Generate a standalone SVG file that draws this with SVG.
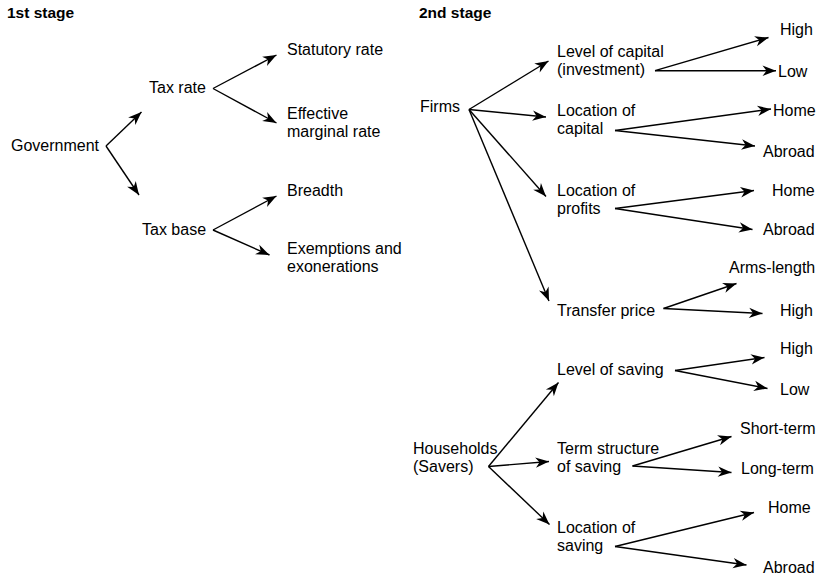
<svg xmlns="http://www.w3.org/2000/svg" width="818" height="579" viewBox="0 0 818 579">
  <defs>
    <marker id="arrow" markerUnits="userSpaceOnUse" markerWidth="16" markerHeight="12" viewBox="-14 -6 15 12" refX="0" refY="0" orient="auto">
      <path d="M0,0 L-13.5,-5.2 L-9.5,0 L-13.5,5.2 Z" fill="#000"/>
    </marker>
    <style>
      text { font-family: "Liberation Sans", Arial, Helvetica, sans-serif; font-size: 16px; fill: #000; }
      .title { font-weight: bold; font-size: 15.5px; }
      .conn line { stroke: #000; stroke-width: 1.4; fill: none; marker-end: url(#arrow); }
    </style>
  </defs>
  <rect width="818" height="579" fill="#fff"/>

  <!-- stage headings -->
  <g id="stage1"><text class="title" x="7" y="18">1st stage</text></g>
  <g id="stage2"><text class="title" x="419" y="18">2nd stage</text></g>

  <!-- 1st stage nodes -->
  <g id="government"><text x="11" y="151">Government</text></g>
  <g id="tax-rate"><text x="149" y="93">Tax rate</text></g>
  <g id="statutory-rate"><text x="287" y="55">Statutory rate</text></g>
  <g id="effective-rate"><text x="287" y="119">Effective</text><text x="287" y="137">marginal rate</text></g>
  <g id="tax-base"><text x="142" y="235">Tax base</text></g>
  <g id="breadth"><text x="287" y="196">Breadth</text></g>
  <g id="exemptions"><text x="287" y="254">Exemptions and</text><text x="287" y="272">exonerations</text></g>

  <!-- 2nd stage: firms -->
  <g id="firms"><text x="420" y="112">Firms</text></g>
  <g id="level-capital"><text x="557" y="57">Level of capital</text><text x="557" y="75">(investment)</text></g>
  <g id="capital-high"><text x="780" y="35">High</text></g>
  <g id="capital-low"><text x="778" y="77">Low</text></g>
  <g id="location-capital"><text x="557" y="116">Location of</text><text x="557" y="134">capital</text></g>
  <g id="capital-home"><text x="773" y="116">Home</text></g>
  <g id="capital-abroad"><text x="763" y="157">Abroad</text></g>
  <g id="location-profits"><text x="557" y="196">Location of</text><text x="557" y="214">profits</text></g>
  <g id="profits-home"><text x="772" y="196">Home</text></g>
  <g id="profits-abroad"><text x="763" y="235">Abroad</text></g>
  <g id="transfer-price"><text x="557" y="316">Transfer price</text></g>
  <g id="price-arms"><text x="729" y="273">Arms-length</text></g>
  <g id="price-high"><text x="780" y="316">High</text></g>

  <!-- 2nd stage: households -->
  <g id="households"><text x="413" y="454">Households</text><text x="413" y="472">(Savers)</text></g>
  <g id="level-saving"><text x="557" y="375">Level of saving</text></g>
  <g id="saving-high"><text x="780" y="354">High</text></g>
  <g id="saving-low"><text x="780" y="395">Low</text></g>
  <g id="term-structure"><text x="557" y="454">Term structure</text><text x="557" y="472">of saving</text></g>
  <g id="short-term"><text x="740" y="434">Short-term</text></g>
  <g id="long-term"><text x="741" y="474">Long-term</text></g>
  <g id="location-saving"><text x="557" y="533">Location of</text><text x="557" y="551">saving</text></g>
  <g id="saving-home"><text x="768" y="513">Home</text></g>
  <g id="saving-abroad"><text x="763" y="573">Abroad</text></g>

  <!-- connectors -->
  <g class="conn" id="connectors">
    <line x1="106" y1="146" x2="141.5" y2="112"/>
    <line x1="106" y1="146" x2="139" y2="195"/>
    <line x1="213" y1="88.5" x2="276.5" y2="55"/>
    <line x1="213" y1="88.5" x2="276.5" y2="123"/>
    <line x1="213" y1="230" x2="276.5" y2="196"/>
    <line x1="213" y1="230" x2="269.5" y2="255"/>

    <line x1="469" y1="109.5" x2="548.5" y2="61"/>
    <line x1="469" y1="109.5" x2="546" y2="117"/>
    <line x1="469" y1="109.5" x2="546" y2="196.5"/>
    <line x1="469" y1="109.5" x2="549" y2="301"/>

    <line x1="655" y1="70.7" x2="768.5" y2="37.5"/>
    <line x1="655" y1="70.7" x2="776" y2="70.7"/>
    <line x1="615" y1="130.5" x2="771" y2="109"/>
    <line x1="615" y1="130.5" x2="755" y2="146"/>
    <line x1="615" y1="208.5" x2="754" y2="190.5"/>
    <line x1="615" y1="208.5" x2="752.5" y2="229.5"/>
    <line x1="663.5" y1="308.5" x2="736.5" y2="283.5"/>
    <line x1="663.5" y1="308.5" x2="762.5" y2="313.5"/>

    <line x1="488.5" y1="466.5" x2="558.5" y2="382.5"/>
    <line x1="488.5" y1="466.5" x2="549" y2="461.5"/>
    <line x1="488.5" y1="466.5" x2="549.5" y2="524.5"/>
    <line x1="675" y1="370.5" x2="764.5" y2="357.5"/>
    <line x1="675" y1="370.5" x2="767.5" y2="388.5"/>
    <line x1="632.5" y1="466" x2="731.5" y2="436.5"/>
    <line x1="632.5" y1="466" x2="731.5" y2="472.5"/>
    <line x1="615" y1="546.5" x2="754" y2="512.5"/>
    <line x1="615" y1="546.5" x2="746.5" y2="565"/>
  </g>
</svg>
